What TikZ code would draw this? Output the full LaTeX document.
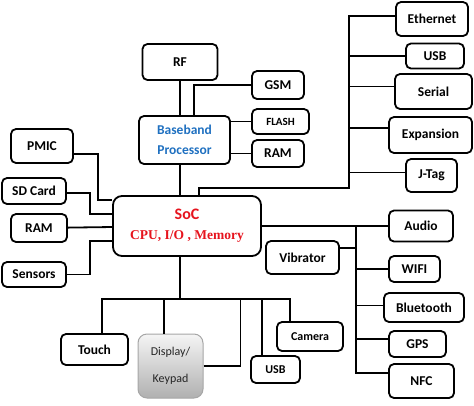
\documentclass[tikz,border=0pt]{standalone}
\usepackage{fontspec}
\setmainfont{Carlito}
\newfontfamily\timesfont{Liberation Serif}
\usepackage{tikz}
\usetikzlibrary{calc}
\usepackage{xcolor}
\definecolor{bbblue}{RGB}{31,112,192}
\definecolor{socred}{RGB}{230,20,30}
\tikzset{
box/.style 2 args={draw,
  line width=1.8pt,
  rounded corners=5pt,
  inner sep=0pt,
    minimum width=#1pt,
    minimum height=#2pt,
    font=\bfseries\fontsize{13.5}{15}\selectfont,
    align=center},
wire/.style={line width=1.8pt},
}

\begin{document}
\begin{tikzpicture}[x=1pt,y=-1pt]
    \useasboundingbox (0,0) rectangle (474,405);

    % baseband side
    \node [box={75}{36}] (rf) at (180,62) {RF};
    \node [box={91}{48}, text=bbblue, font=\bfseries\fontsize{13.5}{20}\selectfont] (bb) at (184.5,140) {Baseband\\Processor};
    \node [box={52}{28}] (gsm) at (278,85) {GSM};
    \node [box={57}{25}, font=\bfseries\fontsize{11}{13}\selectfont] (flash) at (280.5,121.5) {FLASH};
    \node [box={52}{27}] (bram) at (278,153.5) {RAM};

    % soc
    \node [box={148}{60}, rounded corners=9pt, text=socred, font=\bfseries\fontsize{16}{20}\selectfont] (soc) at (187,226) {SoC\\{\timesfont\fontsize{13.5}{15}\selectfont CPU, I/O , Memory}};

    % top right
    \node [box={72}{34}] (eth) at (432,19) {Ethernet};
    \node [box={58}{25}] (tusb) at (435,56) {USB};
    \node [box={77}{35}] (ser) at (433.5,91.5) {Serial};
    \node [box={83}{36}] (exp) at (430.5,135) {Expansion};
    \node [box={51}{33}] (jtag) at (431.5,175.5) {J-Tag};

    % left
    \node [box={62}{34}] (pmic) at (42,146) {PMIC};
    \node [box={64}{26}] (sd) at (34,191) {SD Card};
    \node [box={56}{28}] (lram) at (39,228) {RAM};
    \node [box={64}{25}] (sens) at (34,274.5) {Sensors};

    % right
    \node [box={64}{31}] (aud) at (421,226) {Audio};
    \node [box={73}{33}] (vib) at (302.5,257.5) {Vibrator};
    \node [box={51}{26}] (wifi) at (414.5,269) {WIFI};
    \node [box={80}{29}] (bt) at (424,307.5) {Bluetooth};
    \node [box={57}{26}] (gps) at (417.5,344) {GPS};
    \node [box={65}{34}] (nfc) at (421.5,381) {NFC};

    % bottom
    \node [box={67}{31}] (touch) at (94.5,349.5) {Touch};
    \node [box={65}{64}, draw=gray!70, line width=1pt, rounded corners=9pt, top color=gray!8, bottom color=gray!62, text=black!85, font=\fontsize{12}{27}\selectfont] (disp) at (170.5,366) {Display/\\Keypad};
    \node [box={49}{27}, font=\bfseries\fontsize{12}{14}\selectfont] (busb) at (275.5,369.5) {USB};
    \node [box={66}{29}, font=\bfseries\fontsize{12}{14}\selectfont] (cam) at (310,336.5) {Camera};

    \coordinate (tbus) at (349,188);
    \coordinate (rbus) at (356,226);
    \coordinate (bbus) at (180,299);

  \draw [wire] (rf.south) -- (rf.south |- bb.north);
  \draw [wire] ([xshift=9.5pt]bb.north) |- (gsm.west);
  \draw [wire] (flash.west) -- (flash.west -| bb.east);
  \draw [wire] (bram.west) -- (bram.west -| bb.east);
  \draw [wire] (bb.south -| rf.south) -- (soc.north -| rf.south);

  \draw [wire] ([xshift=12pt]soc.north) |- (tbus) |- ([yshift=3pt]eth.west);
  \foreach \n/\s in {tusb/0pt,ser/5pt,exp/7pt,jtag/3pt}
    \draw [wire] ([yshift=\s]\n.west) -- ([yshift=\s]\n.west -| tbus);

  \draw [wire] ([yshift=-8pt]pmic.east) -- ++(24,0) |- ([yshift=26pt]soc.west);
  \draw [wire] ([yshift=-2pt]sd.east) -- ++(23,0) |- ([yshift=12pt]soc.west);
  \draw [wire] (lram) -- (soc);
  \draw [wire] (sens.east) -- ++(23,0) |- ([yshift=-15pt]soc.west);

  \draw [wire] (soc) -- (aud);
  \draw [wire] (rbus) |- ([yshift=8pt]nfc.west);
  \draw [wire] ([yshift=9.5pt]vib.east) -- ([yshift=9.5pt]vib.east -| rbus);
  \foreach \n/\s in {wifi/0pt,bt/2pt,gps/5pt}
    \draw [wire] ([yshift=\s]\n.west) -- ([yshift=\s]\n.west -| rbus);

  \draw [wire] (soc.south -| bbus) -- (bbus);
  \draw [wire] ([xshift=7.5pt]touch.north) |- (bbus) -| ([xshift=-20pt]cam.north);
  \draw [wire] ([xshift=-6.5pt]disp.north) -- ([xshift=-6.5pt]disp.north |- bbus);
  \draw [wire] (disp.east) -- ++(37,0) |- (bbus);
  \draw [wire] ([xshift=-13.5pt]busb.north) |- (bbus);
  \end{tikzpicture}
\end{document}
